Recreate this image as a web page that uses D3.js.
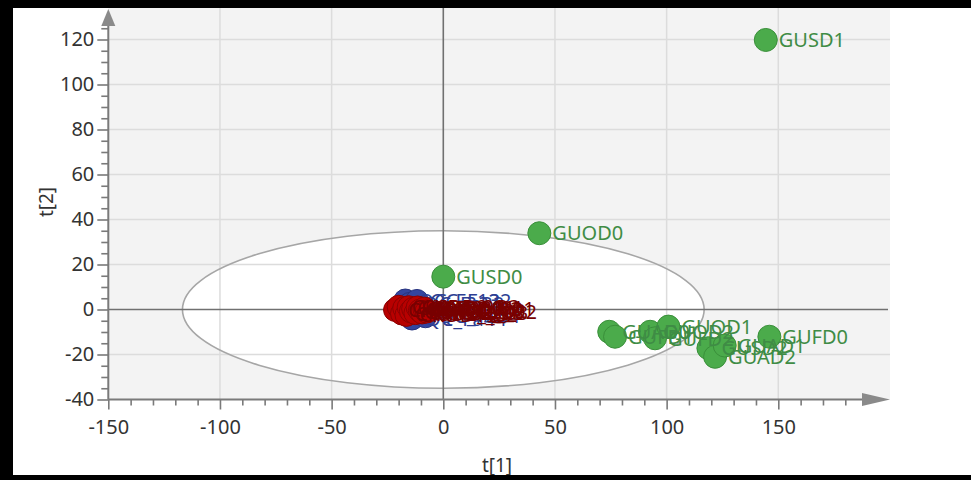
<!DOCTYPE html>
<html>
<head>
<meta charset="utf-8">
<script src="https://cdn.jsdelivr.net/npm/d3@7"></script>
<style>
  html, body { margin: 0; padding: 0; background: #ffffff; }
  svg { display: block; }
  text { font-family: "Segoe UI", "Noto Sans", "Open Sans", sans-serif; }
</style>
</head>
<body>
<svg id="chart" width="971" height="480"></svg>
<script>
// Score plot t[1] vs t[2]

// Group G samples
const greenLabels = ["GUSD1", "GUOD0", "GUSD0", "GUAD0", "GUFD1", "GUOD2", "GUFD2", "GUOD1", "GUSD2", "GUAD2", "GUFD0", "GUAD1"];
const greenX = [144.4, 43.0, 0.0, 74.3, 76.9, 92.6, 94.8, 100.8, 118.7, 121.7, 146.0, 126.0];
const greenY = [119.8, 33.9, 14.6, -9.9, -12.1, -9.9, -12.8, -7.6, -17.2, -21.0, -12.1, -16.0];

// Group Q samples
const blueLabels = ["QC_Fa12", "QC_Fa22", "QC_Fa32", "QC_Fa44", "QC_Fa54"];
const blueX = [-17.0, -15.0, -11.8, -14.0, -8.0];
const blueY = [4.0, 2.5, 3.8, -4.0, -3.0];

// Group C samples
const redLabels = ["CKSD0_01", "CKSD1_02", "CKSD2_03", "CKOD0_01", "CKOD1_02", "CKOD2_03", "CKAD0_01", "CKAD1_02", "CKAD2_03", "CKFD0_01", "CKFD1_02", "CKFD2_03", "CKUD0_01", "CKUD1_02"];
const redX = [-21.6, -20.0, -18.5, -17.5, -16.5, -15.5, -14.5, -13.5, -12.5, -11.5, -10.5, -9.5, -8.5, -7.5];
const redY = [-0.2, 1.2, -1.8, 0.6, -2.4, 1.0, -0.8, 0.3, -1.6, 0.9, -0.5, -1.3, 0.4, -0.9];

// Tick values
const xMajorTicks = [-150, -100, -50, 0, 50, 100, 150];
const yMajorTicks = [-40, -20, 0, 20, 40, 60, 80, 100, 120];
const xMinorTicks = d3.range(-150, 181, 10).filter(v => v % 50 !== 0);
const yMinorTicks = d3.range(-40, 126, 5).filter(v => v % 20 !== 0);

// Confidence ellipse semi-axes (t[1], t[2])
const ellipseA = 116.8;
const ellipseB = 35.0;

const svg = d3.select("#chart");

const x = d3.scaleLinear().domain([-150, 150]).range([108.3, 778.3]);
const y = d3.scaleLinear().domain([-40, 120]).range([399.5, 39.5]);

const plotLeft = x(-150), plotRight = 890, plotTop = 8, plotBottom = y(-40);

// Plot background
svg.append("rect")
  .attr("x", plotLeft).attr("y", plotTop)
  .attr("width", plotRight - plotLeft).attr("height", plotBottom - plotTop)
  .attr("fill", "#f3f3f3");

// Ellipse fill
svg.append("ellipse")
  .attr("cx", x(0)).attr("cy", y(0))
  .attr("rx", x(ellipseA) - x(0)).attr("ry", y(0) - y(ellipseB))
  .attr("fill", "#ffffff");

// Grid lines
const grid = svg.append("g").attr("stroke", "#dcdcdc").attr("stroke-width", 1.5);
xMajorTicks.filter(v => v !== -150 && v !== 0).forEach(v => {
  grid.append("line").attr("x1", x(v)).attr("x2", x(v)).attr("y1", plotTop).attr("y2", plotBottom);
});
yMajorTicks.filter(v => v !== -40 && v !== 0).forEach(v => {
  grid.append("line").attr("x1", plotLeft).attr("x2", plotRight).attr("y1", y(v)).attr("y2", y(v));
});

// Ellipse outline
svg.append("ellipse")
  .attr("cx", x(0)).attr("cy", y(0))
  .attr("rx", x(ellipseA) - x(0)).attr("ry", y(0) - y(ellipseB))
  .attr("fill", "none").attr("stroke", "#a6a6a6").attr("stroke-width", 1.6);

// Zero lines
svg.append("line").attr("x1", plotLeft).attr("x2", plotRight - 2)
  .attr("y1", y(0)).attr("y2", y(0)).attr("stroke", "#707070").attr("stroke-width", 1.6);
svg.append("line").attr("x1", x(0)).attr("x2", x(0))
  .attr("y1", plotTop).attr("y2", plotBottom).attr("stroke", "#707070").attr("stroke-width", 1.6);

// Axes
const axisColor = "#7a7a7a";
function styleAxis(g) {
  g.select(".domain").remove();
  g.selectAll(".tick line").attr("stroke", axisColor).attr("stroke-width", 1.6);
  g.selectAll(".tick text").attr("fill", "#333").style("font-size", "20px");
}

const xAxisG = svg.append("g").attr("transform", `translate(0,${plotBottom})`)
  .call(d3.axisBottom(x).tickValues(xMajorTicks).tickSize(10).tickPadding(10).tickFormat(d3.format("d")))
  .call(styleAxis);
xAxisG.selectAll(".tick text").text(d => String(d));
svg.append("g").attr("transform", `translate(0,${plotBottom})`)
  .call(d3.axisBottom(x).tickValues(xMinorTicks).tickSize(6).tickFormat(""))
  .call(styleAxis);

const yAxisG = svg.append("g").attr("transform", `translate(${plotLeft},0)`)
  .call(d3.axisLeft(y).tickValues(yMajorTicks).tickSize(11).tickPadding(3).tickFormat(d3.format("d")))
  .call(styleAxis);
yAxisG.selectAll(".tick text").text(d => String(d));
svg.append("g").attr("transform", `translate(${plotLeft},0)`)
  .call(d3.axisLeft(y).tickValues(yMinorTicks).tickSize(7).tickFormat(""))
  .call(styleAxis);

// Axis lines with arrowheads
svg.append("line").attr("x1", plotLeft).attr("x2", plotRight - 20)
  .attr("y1", plotBottom).attr("y2", plotBottom).attr("stroke", axisColor).attr("stroke-width", 2);
svg.append("line").attr("x1", plotLeft).attr("x2", plotLeft)
  .attr("y1", plotBottom).attr("y2", plotTop + 16).attr("stroke", axisColor).attr("stroke-width", 2);
svg.append("path")
  .attr("d", `M${plotRight},${plotBottom} L${plotRight - 28},${plotBottom - 6.5} L${plotRight - 28},${plotBottom + 6.5} Z`)
  .attr("fill", "#8a8a8a");
svg.append("path")
  .attr("d", `M${plotLeft},${plotTop + 1} L${plotLeft - 7},${plotTop + 18} L${plotLeft + 7},${plotTop + 18} Z`)
  .attr("fill", "#8a8a8a");

// Axis titles
svg.append("text").attr("x", 497).attr("y", 472).attr("text-anchor", "middle")
  .attr("fill", "#333").style("font-size", "19px").text("t[1]");
svg.append("text").attr("transform", "translate(53,202) rotate(-90)").attr("text-anchor", "middle")
  .attr("fill", "#333").style("font-size", "19px").text("t[2]");

// Sample points and labels
function drawGroup(labels, xs, ys, fill, stroke, textColor) {
  const data = labels.map((l, i) => ({ label: l, t1: xs[i], t2: ys[i] }));
  const g = svg.append("g");
  g.selectAll("circle").data(data).join("circle")
    .attr("cx", d => x(d.t1)).attr("cy", d => y(d.t2)).attr("r", 11.5)
    .attr("fill", fill).attr("stroke", stroke).attr("stroke-width", 1);
  g.selectAll("text").data(data).join("text")
    .attr("x", d => x(d.t1) + 13).attr("y", d => y(d.t2))
    .attr("dy", "0.36em").attr("fill", textColor).style("font-size", "20px")
    .text(d => d.label);
}

drawGroup(blueLabels, blueX, blueY, "#34459f", "#27337f", "#2e3f93");
drawGroup(redLabels, redX, redY, "#b80000", "#8a0000", "#780000");
drawGroup(greenLabels, greenX, greenY, "#4bab4b", "#3a8f3a", "#3f8c45");

// Frame
svg.append("rect").attr("x", 0).attr("y", 0).attr("width", 971).attr("height", 8).attr("fill", "#000");
svg.append("rect").attr("x", 0).attr("y", 0).attr("width", 13).attr("height", 480).attr("fill", "#000");
svg.append("rect").attr("x", 0).attr("y", 475).attr("width", 971).attr("height", 5).attr("fill", "#000");
</script>
</body>
</html>
